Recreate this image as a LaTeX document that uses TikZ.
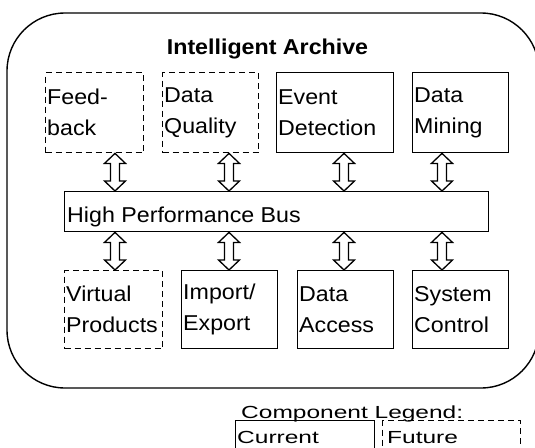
\documentclass[tikz,border=0pt]{standalone}
\usepackage{fontspec}
\setmainfont{Liberation Sans}[FakeStretch=1.08]
\newfontfamily\legendfont{Liberation Sans}[FakeStretch=1.4]
\usetikzlibrary{calc}

\begin{document}
\begin{tikzpicture}[x=1pt, y=-1pt,
  every node/.style={font=\fontsize{21.5}{31}\selectfont},
  comp/.style={draw, line width=1.4pt, anchor=north west, inner xsep=1.5pt,
    inner ysep=0pt, align=left},
  current/.style={comp},
  future/.style={comp, dash pattern=on 6pt off 4pt},
  topbox/.style={minimum height=80pt},
  lowbox/.style={minimum height=78pt},
  legendtext/.style={font=\legendfont\fontsize{17.5}{20}\selectfont, inner sep=0pt},
  % hollow double-headed arrow between two vertically aligned points
  busarrow/.style={line width=1.3pt, line join=miter,
    to path={let \p1=(\tikztostart), \p2=(\tikztotarget) in
      (\x1,\y1) -- (\x1+10.5pt,\y1-10pt) -- (\x1+4.5pt,\y1-10pt)
      -- (\x1+4.5pt,\y2+10pt) -- (\x1+10.5pt,\y2+10pt) -- (\x1,\y2)
      -- (\x1-10.5pt,\y2+10pt) -- (\x1-4.5pt,\y2+10pt)
      -- (\x1-4.5pt,\y1-10pt) -- (\x1-10.5pt,\y1-10pt) -- cycle}}
]
\useasboundingbox (0,0) rectangle (535,447);

% archive frame
\draw[line width=1.4pt, rounded corners=58pt] (7,13) rectangle (539,388);
\node[font=\bfseries\fontsize{21.5}{26}\selectfont, anchor=base, inner sep=0pt]
  (title) at (267.5,54) {Intelligent Archive};

% upper components
\node[future, topbox, minimum width=98pt, text width=95pt] (fb) at (45,72) {Feed-\\back};
\node[future, topbox, minimum width=96pt, text width=93pt] (dq) at (162,72) {Data\\Quality};
\node[current, topbox, minimum width=117pt, text width=114pt] (ed) at (276,72) {Event\\Detection};
\node[current, topbox, minimum width=96pt, text width=93pt] (dm) at (412,72) {Data\\Mining};

% bus
\node[draw, line width=1.4pt, anchor=north west, minimum width=424pt,
  minimum height=40pt, inner sep=0pt] (bus) at (64,191) {};
\node[anchor=base west, inner sep=0pt] (bustext) at (67,222) {High Performance Bus};

% lower components
\node[future, lowbox, minimum width=98pt, text width=95pt] (vp) at (64,270) {Virtual\\Products};
\node[current, lowbox, minimum width=96pt, text width=93pt] (ie) at (181,270) {Import/\\Export};
\node[current, lowbox, minimum width=96pt, text width=93pt] (da) at (297,270) {Data\\Access};
\node[current, lowbox, minimum width=96pt, text width=93pt] (sc) at (412,270) {System\\Control};

% arrow columns
\coordinate (c1) at (115,0);
\coordinate (c2) at (229,0);
\coordinate (c3) at (344,0);
\coordinate (c4) at (442,0);

\draw[busarrow] (fb.south -| c1) to (bus.north -| c1);
\draw[busarrow] (dq.south -| c2) to (bus.north -| c2);
\draw[busarrow] (ed.south -| c3) to (bus.north -| c3);
\draw[busarrow] (dm.south -| c4) to (bus.north -| c4);
\draw[busarrow] (bus.south -| c1) to (vp.north -| c1);
\draw[busarrow] (bus.south -| c2) to (ie.north -| c2);
\draw[busarrow] (bus.south -| c3) to (da.north -| c3);
\draw[busarrow] (bus.south -| c4) to (sc.north -| c4);

% legend
\node[draw, line width=1.3pt, anchor=north west, minimum width=139pt,
  minimum height=35pt, inner sep=0pt] (legcur) at (235,420) {};
\node[draw, line width=1.3pt, dash pattern=on 6pt off 4pt, anchor=north west,
  minimum width=138pt, minimum height=35pt, inner sep=0pt] (legfut) at (382,420) {};
\node[legendtext, anchor=base west] (legtitle) at (241,418) {Component Legend:};
\node[legendtext, anchor=base west] (curtext) at (237,443) {Current};
\node[legendtext, anchor=base west] (futtext) at (387,443) {Future};
\end{tikzpicture}
\end{document}
